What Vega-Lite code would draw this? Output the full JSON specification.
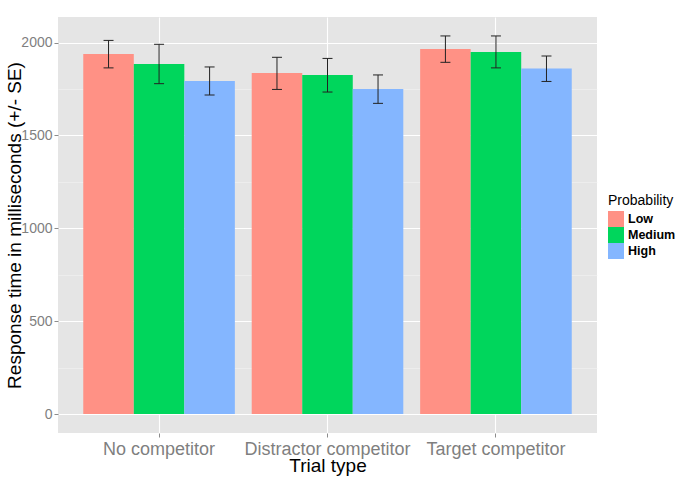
{
  "$schema": "https://vega.github.io/schema/vega-lite/v6.json",
  "autosize": {"type": "none"},
  "padding": {"left": 58, "top": 17, "right": 83, "bottom": 44},
  "width": 539,
  "height": 416,
  "title": {"text": "Response times", "fontSize": 16.6, "fontWeight": "bold", "color": "black", "anchor": "middle", "frame": "group", "baseline": "alphabetic", "offset": 3.5},
  "data": {
    "values": [
      {"trial": "No competitor", "prob": "Low", "mean": 1939, "lo": 1864, "hi": 2012},
      {"trial": "No competitor", "prob": "Medium", "mean": 1885, "lo": 1779, "hi": 1991},
      {"trial": "No competitor", "prob": "High", "mean": 1793, "lo": 1718, "hi": 1869},
      {"trial": "Distractor competitor", "prob": "Low", "mean": 1836, "lo": 1748, "hi": 1921},
      {"trial": "Distractor competitor", "prob": "Medium", "mean": 1826, "lo": 1734, "hi": 1915},
      {"trial": "Distractor competitor", "prob": "High", "mean": 1750, "lo": 1673, "hi": 1826},
      {"trial": "Target competitor", "prob": "Low", "mean": 1966, "lo": 1894, "hi": 2036},
      {"trial": "Target competitor", "prob": "Medium", "mean": 1950, "lo": 1864, "hi": 2036},
      {"trial": "Target competitor", "prob": "High", "mean": 1861, "lo": 1791, "hi": 1928}
    ]
  },
  "encoding": {
    "x": {
      "field": "trial",
      "type": "nominal",
      "sort": ["No competitor", "Distractor competitor", "Target competitor"],
      "title": "Trial type",
      "scale": {"paddingInner": 0.1, "paddingOuter": 0.15},
      "axis": {
        "labelAngle": 0,
        "labelFontSize": 18,
        "labelColor": "#7F7F7F",
        "labelPadding": 3,
        "domain": false,
        "tickSize": 4,
        "tickColor": "#8C8C8C",
        "grid": true,
        "gridColor": "white",
        "gridWidth": 1.1,
        "bandPosition": 0.5,
        "titleFontSize": 19,
        "titleFontWeight": "normal",
        "titleColor": "black",
        "titlePadding": -2
      }
    },
    "xOffset": {"field": "prob", "type": "nominal", "sort": ["Low", "Medium", "High"], "scale": {"paddingInner": 0, "paddingOuter": 0}}
  },
  "layer": [
    {
      "mark": {"type": "bar"},
      "encoding": {
        "y": {
          "field": "mean",
          "type": "quantitative",
          "title": "Response time in milliseconds (+/- SE)",
          "scale": {"domain": [-102, 2138], "nice": false, "zero": false},
          "axis": {
            "values": [0, 250, 500, 750, 1000, 1250, 1500, 1750, 2000],
            "labelExpr": "datum.value % 500 === 0 ? datum.label : ''",
            "format": "d",
            "domain": false,
            "labelFontSize": 14,
            "labelColor": "#7F7F7F",
            "labelPadding": 2,
            "tickSize": 4,
            "tickColor": "#8C8C8C",
            "tickOpacity": {"condition": {"test": "datum.value % 500 === 0", "value": 1}, "value": 0},
            "gridColor": {"condition": {"test": "datum.value % 500 === 0", "value": "white"}, "value": "#F2F2F2"},
            "gridWidth": {"condition": {"test": "datum.value % 500 === 0", "value": 1.1}, "value": 0.6},
            "titleFontSize": 19,
            "titleFontWeight": "normal",
            "titleColor": "black",
            "titlePadding": -4
          }
        },
        "color": {
          "field": "prob",
          "type": "nominal",
          "sort": ["Low", "Medium", "High"],
          "scale": {"domain": ["Low", "Medium", "High"], "range": ["#FF9185", "#00D65C", "#84B6FF"]},
          "legend": {
            "orient": "none",
            "legendX": 550,
            "legendY": 177,
            "title": "Probability",
            "titleFontSize": 14,
            "titleFontWeight": "normal",
            "titleColor": "black",
            "titlePadding": 3,
            "labelFontSize": 12.5,
            "labelFontWeight": "bold",
            "labelColor": "black",
            "labelOffset": 4,
            "symbolType": "square",
            "symbolSize": 256,
            "symbolStrokeWidth": 0,
            "symbolOpacity": 1,
            "rowPadding": 0
          }
        }
      }
    },
    {
      "mark": {"type": "rule", "color": "#222222", "strokeWidth": 1},
      "encoding": {
        "y": {"field": "lo", "type": "quantitative", "title": "Response time in milliseconds (+/- SE)"},
        "y2": {"field": "hi"}
      }
    },
    {
      "mark": {"type": "tick", "orient": "horizontal", "size": 10, "thickness": 1, "color": "#222222", "opacity": 1},
      "encoding": {
        "y": {"field": "hi", "type": "quantitative", "title": "Response time in milliseconds (+/- SE)"}
      }
    },
    {
      "mark": {"type": "tick", "orient": "horizontal", "size": 10, "thickness": 1, "color": "#222222", "opacity": 1},
      "encoding": {
        "y": {"field": "lo", "type": "quantitative", "title": "Response time in milliseconds (+/- SE)"}
      }
    }
  ],
  "config": {
    "font": "Liberation Sans",
    "view": {"fill": "#E5E5E5", "stroke": null}
  }
}
